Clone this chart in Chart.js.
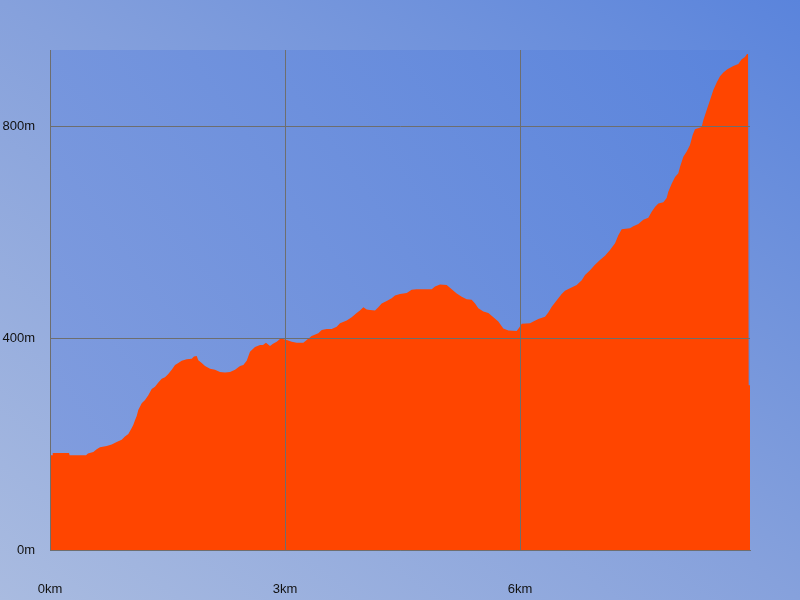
<!DOCTYPE html>
<html>
<head>
<meta charset="utf-8">
<script src="https://cdn.jsdelivr.net/npm/chart.js@4.4.1/dist/chart.umd.min.js"></script>
<style>
  html, body { margin: 0; padding: 0; }
  #wrap {
    width: 800px; height: 600px; position: relative;
    background: linear-gradient(to top right, #a9bbe0 0%, #86a1dc 50%, #5a84dc 100%);
  }
  canvas { display: block; }
</style>
</head>
<body>
<div id="wrap"><canvas id="c" width="800" height="600"></canvas></div>
<script>
// Distance along the route (km)
const distKm = [
  0.000, 0.030, 0.035, 0.243, 0.250, 0.460, 0.485, 0.553, 0.596, 0.638,
  0.724, 0.788, 0.851, 0.915, 0.957, 1.000, 1.043, 1.063, 1.085, 1.107,
  1.127, 1.171, 1.213, 1.255, 1.298, 1.340, 1.383, 1.426, 1.468, 1.510,
  1.554, 1.596, 1.638, 1.681, 1.745, 1.809, 1.838, 1.873, 1.893, 1.937,
  1.979, 2.043, 2.106, 2.170, 2.234, 2.298, 2.362, 2.426, 2.468, 2.511,
  2.553, 2.617, 2.681, 2.719, 2.757, 2.809, 2.847, 2.894, 2.936, 2.974,
  3.022, 3.086, 3.149, 3.234, 3.277, 3.340, 3.425, 3.469, 3.532, 3.596,
  3.660, 3.702, 3.788, 3.851, 3.915, 3.957, 4.000, 4.043, 4.085, 4.149,
  4.191, 4.234, 4.298, 4.362, 4.404, 4.468, 4.554, 4.617, 4.681, 4.873,
  4.915, 4.979, 5.064, 5.128, 5.192, 5.256, 5.319, 5.383, 5.426, 5.468,
  5.532, 5.596, 5.660, 5.723, 5.787, 5.851, 5.957, 5.991, 6.022, 6.128,
  6.170, 6.234, 6.319, 6.361, 6.405, 6.447, 6.489, 6.532, 6.574, 6.638,
  6.724, 6.788, 6.830, 6.894, 6.957, 7.021, 7.085, 7.149, 7.213, 7.255,
  7.298, 7.404, 7.446, 7.511, 7.574, 7.638, 7.681, 7.723, 7.766, 7.830,
  7.872, 7.893, 7.936, 7.979, 8.021, 8.043, 8.085, 8.128, 8.170, 8.204,
  8.234, 8.319, 8.340, 8.383, 8.426, 8.468, 8.511, 8.553, 8.596, 8.647,
  8.723, 8.787, 8.830, 8.872, 8.898, 8.911, 8.911, 8.923, 8.923, 8.936
];
// Elevation (m)
const elevM = [
  179, 179, 183, 183, 179, 179, 182, 185, 190, 194,
  196, 199, 204, 208, 214, 219, 230, 236, 245, 253,
  264, 277, 283, 292, 304, 308, 316, 323, 326, 332,
  340, 349, 353, 357, 360, 361, 365, 366, 358, 353,
  347, 342, 340, 336, 335, 336, 340, 347, 349, 357,
  374, 383, 387, 387, 391, 385, 389, 393, 398, 398,
  396, 393, 391, 391, 396, 404, 409, 415, 417, 417,
  421, 428, 433, 439, 447, 452, 458, 454, 453, 452,
  458, 465, 470, 475, 480, 483, 485, 491, 492, 492,
  497, 501, 500, 492, 484, 478, 473, 472, 465, 456,
  450, 447, 439, 431, 418, 414, 413, 420, 427, 428,
  431, 436, 440, 448, 459, 467, 475, 483, 489, 494,
  500, 509, 519, 528, 538, 547, 555, 566, 579, 594,
  605, 607, 611, 615, 623, 627, 638, 647, 654, 656,
  664, 676, 691, 704, 711, 723, 742, 752, 764, 783,
  794, 798, 811, 830, 849, 868, 882, 894, 901, 907,
  913, 917, 926, 930, 936, 936, 624, 624, 311, 311
];
const xTickValues = [0, 3, 6];
const yTickValues = [0, 400, 800];
const xMax = 8.936;
const yMax = 943.4;

const plotBg = {
  id: 'plotBg',
  beforeDraw(chart) {
    const { ctx, chartArea: a } = chart;
    const g = ctx.createLinearGradient(a.left, a.bottom, a.right, a.top);
    g.addColorStop(0, '#839ede');
    g.addColorStop(1, '#5a84dc');
    ctx.save();
    ctx.fillStyle = g;
    ctx.fillRect(a.left, a.top, a.right - a.left, a.bottom - a.top);
    ctx.restore();
  }
};

const tickFont = { family: 'Liberation Sans', size: 13 };
const gridColor = '#6e6e6e';

new Chart(document.getElementById('c'), {
  type: 'line',
  data: {
    datasets: [{
      data: distKm.map((d, i) => ({ x: d, y: elevM[i] })),
      backgroundColor: '#ff4500',
      borderWidth: 0,
      borderColor: 'rgba(0,0,0,0)',
      pointRadius: 0,
      tension: 0,
      fill: 'origin'
    }]
  },
  options: {
    responsive: false,
    animation: false,
    layout: { padding: { top: 50, right: 50, left: 0, bottom: 0 } },
    plugins: { legend: { display: false }, tooltip: { enabled: false } },
    scales: {
      x: {
        type: 'linear', min: 0, max: xMax,
        grid: { color: gridColor, lineWidth: 1, drawTicks: false, z: 1 },
        border: { display: true, color: gridColor, width: 1, z: 1 },
        ticks: { font: tickFont, color: '#111', padding: 32, maxRotation: 0,
                 callback: v => v + 'km' },
        afterBuildTicks: s => { s.ticks = xTickValues.map(v => ({ value: v })); },
        afterFit: s => { s.height = 50; }
      },
      y: {
        type: 'linear', min: 0, max: yMax,
        grid: { color: gridColor, lineWidth: 1, drawTicks: false, z: 1 },
        border: { display: true, color: gridColor, width: 1, z: 1 },
        ticks: { font: tickFont, color: '#111', padding: 15,
                 callback: v => v + 'm' },
        afterBuildTicks: s => { s.ticks = yTickValues.map(v => ({ value: v })); },
        afterFit: s => { s.width = 50; }
      }
    }
  },
  plugins: [plotBg]
});
</script>
</body>
</html>
